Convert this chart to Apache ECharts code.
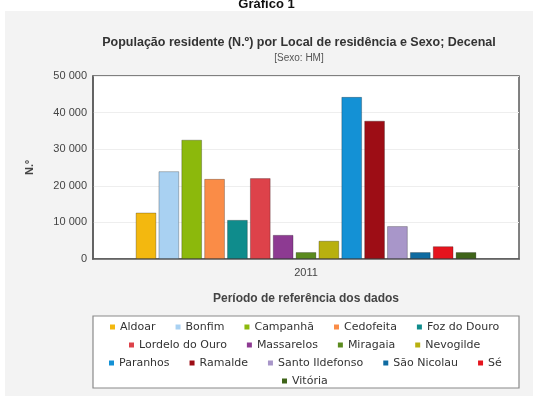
<!DOCTYPE html>
<html>
<head>
    <meta charset="UTF-8">
    <title>Gráfico 1</title>
    <script src="https://cdn.jsdelivr.net/npm/echarts@6/dist/echarts.min.js"></script>
    <style>
        html, body { margin: 0; padding: 0; background: #fff; }
    </style>
</head>
<body>

<div id="main" style="width: 533px;height:396px"></div>

<script type="text/javascript">
    // dados
    var periodos = ['2011'];
    var locais = ['Aldoar', 'Bonfim', 'Campanhã', 'Cedofeita', 'Foz do Douro',
        'Lordelo do Ouro', 'Massarelos', 'Miragaia', 'Nevogilde',
        'Paranhos', 'Ramalde', 'Santo Ildefonso', 'São Nicolau', 'Sé', 'Vitória'];
    var valores = [12700, 24000, 32600, 21900, 10700,
        22100, 6600, 1900, 5000,
        44300, 37800, 9000, 1900, 3500, 1900];
    var cores = ['#f3b80f', '#a9d1f2', '#8cb90c', '#fa8c47', '#0f8c8c',
        '#dd424a', '#8d3a92', '#5b8b1f', '#b8b00f',
        '#1491d5', '#9d0d15', '#a896c9', '#0f6ba1', '#e5141d', '#3f6419'];
    var linhasLegenda = [
        ['Aldoar', 'Bonfim', 'Campanhã', 'Cedofeita', 'Foz do Douro'],
        ['Lordelo do Ouro', 'Massarelos', 'Miragaia', 'Nevogilde'],
        ['Paranhos', 'Ramalde', 'Santo Ildefonso', 'São Nicolau', 'Sé'],
        ['Vitória']
    ];
    var eixoY = { min: 0, max: 50000, interval: 10000 };

    var myChart = echarts.init(document.getElementById('main'));

    var series = [];
    for (var i = 0; i < locais.length; i++) {
        series.push({
            name: locais[i],
            type: 'bar',
            barGap: '10%',
            barCategoryGap: '20%',
            itemStyle: {
                color: cores[i],
                borderColor: 'rgba(0,0,0,0.25)',
                borderWidth: 1
            },
            data: [valores[i]]
        });
    }

    // medir a largura de cada linha para a centrar na caixa da legenda
    var ctx = document.createElement('canvas').getContext('2d');
    ctx.font = '11px "DejaVu Sans"';
    var fonteLeg = 11, iconeLeg = 5, gapLeg = 20, centroLeg = 305;

    // uma legenda por linha, para centrar cada linha
    var legendas = [];
    for (var j = 0; j < linhasLegenda.length; j++) {
        var larg = 0;
        linhasLegenda[j].forEach(function (nome, k) {
            larg += iconeLeg + 5 + ctx.measureText(nome).width + (k > 0 ? gapLeg : 0);
        });
        legendas.push({
            data: linhasLegenda[j],
            top: 320 + j * 18,
            left: Math.round(centroLeg - larg / 2),
            padding: 0,
            itemWidth: iconeLeg,
            itemHeight: iconeLeg,
            itemGap: gapLeg,
            icon: 'rect',
            selectedMode: false,
            itemStyle: { borderWidth: 0 },
            textStyle: {
                fontFamily: 'DejaVu Sans',
                fontSize: fonteLeg,
                color: '#333',
                lineHeight: 14
            }
        });
    }

    option = {
        backgroundColor: '#fff',
        animation: false,
        graphic: [
            {   // painel cinzento
                type: 'rect', z: -10,
                shape: { x: 5, y: 11, width: 528, height: 385 },
                style: { fill: '#f3f3f3' }
            },
            {   // caixa da legenda
                type: 'rect', z: -5,
                shape: { x: 93, y: 316, width: 426, height: 72 },
                style: { fill: '#fff', stroke: '#8a8a8a', lineWidth: 1.2 }
            },
            {
                type: 'text', left: 'center', top: -2,
                style: {
                    text: 'Gráfico 1',
                    font: 'bold 13px "Liberation Sans", Arial, sans-serif',
                    fill: '#111'
                }
            }
        ],
        title: {
            text: 'População residente (N.º) por Local de residência e Sexo; Decenal',
            subtext: '[Sexo: HM]',
            left: 294,
            textAlign: 'center',
            top: 31,
            itemGap: 4,
            textStyle: {
                fontFamily: 'Liberation Sans',
                fontSize: 12.5,
                fontWeight: 'bold',
                color: '#333'
            },
            subtextStyle: {
                fontFamily: 'Liberation Sans',
                fontSize: 10,
                color: '#555'
            }
        },
        legend: legendas,
        grid: {
            show: true,
            left: 93,
            right: 14,
            top: 76,
            bottom: 137,
            backgroundColor: '#fff',
            borderColor: '#5a5a5a',
            borderWidth: 1.5
        },
        xAxis: {
            type: 'category',
            data: periodos,
            name: 'Período de referência dos dados',
            nameLocation: 'middle',
            nameGap: 34,
            nameTextStyle: {
                fontFamily: 'Liberation Sans',
                fontSize: 12,
                fontWeight: 'bold',
                color: '#444'
            },
            axisLine: { lineStyle: { color: '#5a5a5a', width: 1.5 } },
            axisTick: { show: false },
            axisLabel: {
                fontFamily: 'Liberation Sans',
                fontSize: 11,
                color: '#444',
                margin: 8
            }
        },
        yAxis: {
            type: 'value',
            min: eixoY.min,
            max: eixoY.max,
            interval: eixoY.interval,
            name: 'N.º',
            nameLocation: 'middle',
            nameGap: 58,
            nameRotate: 90,
            nameTextStyle: {
                fontFamily: 'Liberation Sans',
                fontSize: 11,
                fontWeight: 'bold',
                color: '#444'
            },
            axisLine: { show: true, lineStyle: { color: '#5a5a5a', width: 1.5 } },
            axisTick: { show: false },
            splitLine: { lineStyle: { color: '#eeeeee' } },
            axisLabel: {
                fontFamily: 'Liberation Sans',
                fontSize: 11,
                color: '#444',
                margin: 6,
                formatter: function (v) {
                    return String(v).replace(/\B(?=(\d{3})+(?!\d))/g, ' ');
                }
            }
        },
        series: series
    };

    myChart.setOption(option);
</script>
</body>
</html>
